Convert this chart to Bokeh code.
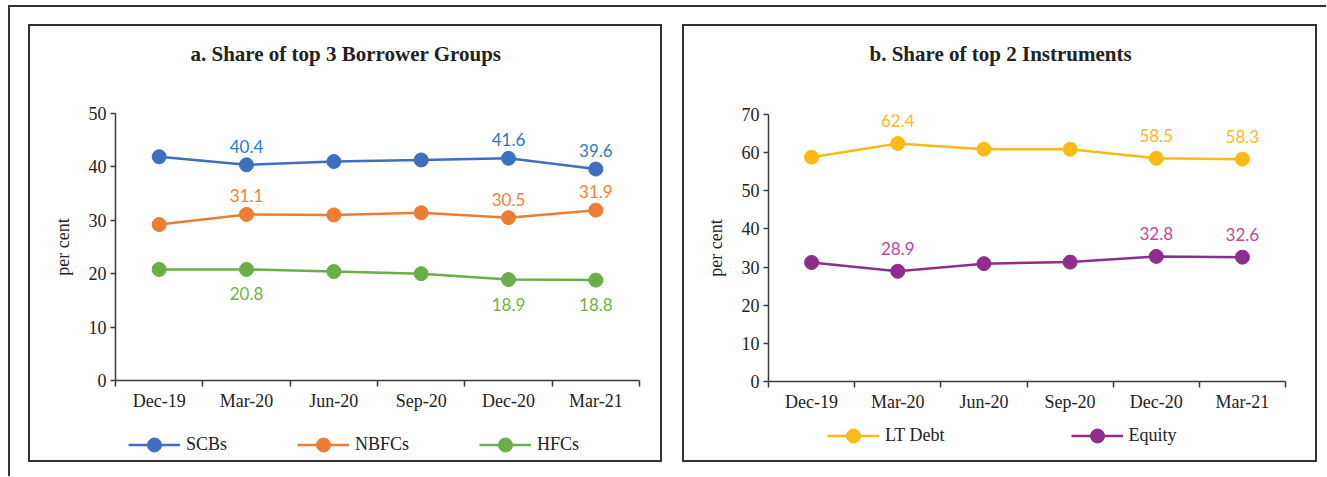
from bokeh.plotting import figure
from bokeh.layouts import row, column
from bokeh.models import (Range1d, FixedTicker, Legend, LegendItem, ColumnDataSource,
                          LabelSet)
from bokeh.core.properties import value
from bokeh.embed import file_html
from bokeh.resources import INLINE

# ---------------- data ----------------
categories = ["Dec-19", "Mar-20", "Jun-20", "Sep-20", "Dec-20", "Mar-21"]

scbs = [41.9, 40.4, 41.0, 41.3, 41.6, 39.6]
nbfcs = [29.2, 31.1, 31.0, 31.4, 30.5, 31.9]
hfcs = [20.8, 20.8, 20.4, 20.0, 18.9, 18.8]

lt_debt = [58.8, 62.4, 60.9, 60.9, 58.5, 58.3]
equity = [31.2, 28.9, 30.9, 31.3, 32.8, 32.6]

labelled_idx = [1, 4, 5]          # points carrying a data label

yticks_a = [0, 10, 20, 30, 40, 50]
yticks_b = [0, 10, 20, 30, 40, 50, 60, 70]

title_a = "a. Share of top 3 Borrower Groups"
title_b = "b. Share of top 2 Instruments"
ylabel = "per cent"

# ---------------- styling ----------------
SERIF = "Liberation Serif"
SANS = "Lato"
AX = "#3a3a3a"
TXT = "#222222"

xs = [i + 0.5 for i in range(len(categories))]


def make_panel(title, series, yticks, width, title_h, plot_h, leg_h, borders, title_off,
               legend_loc, legend_spacing, label_off_above, label_off_below):
    # strip that carries the panel title
    tf = figure(width=width, height=title_h, output_backend="svg", toolbar_location=None,
                x_range=Range1d(0, 1), y_range=Range1d(0, 1),
                x_axis_type=None, y_axis_type=None, min_border=0)
    tf.outline_line_color = None
    tf.title.text = title
    tf.title.align = "left"
    tf.title.offset = title_off
    tf.title.standoff = 27
    tf.title.text_font = SERIF
    tf.title.text_font_style = "bold"
    tf.title.text_font_size = "21px"
    tf.title.text_color = TXT

    p = figure(width=width, height=plot_h, output_backend="svg", toolbar_location=None,
               x_range=Range1d(0, len(categories)), y_range=Range1d(yticks[0], yticks[-1]),
               min_border_left=borders[0], min_border_right=borders[1],
               min_border_top=borders[2], min_border_bottom=borders[3])
    p.title = None
    p.outline_line_color = None
    p.grid.visible = False
    p.background_fill_color = "white"
    p.border_fill_color = "white"

    # x axis: labels at category centres, ticks on category boundaries
    xa = p.xaxis[0]
    xa.ticker = FixedTicker(ticks=xs, minor_ticks=list(range(len(categories) + 1)))
    xa.major_label_overrides = {x: c for x, c in zip(xs, categories)}
    xa.major_tick_out = 0
    xa.major_tick_in = 0
    xa.minor_tick_out = 6
    xa.minor_tick_in = 0
    xa.minor_tick_line_color = AX
    xa.minor_tick_line_width = 1.5
    xa.axis_line_color = AX
    xa.axis_line_width = 1.5
    xa.major_label_standoff = 4
    xa.major_label_text_font = SERIF
    xa.major_label_text_font_size = "18px"
    xa.major_label_text_color = TXT

    ya = p.yaxis[0]
    ya.ticker = FixedTicker(ticks=yticks, minor_ticks=[])
    ya.major_tick_out = 5
    ya.major_tick_in = 0
    ya.major_tick_line_color = AX
    ya.major_tick_line_width = 1.5
    ya.axis_line_color = AX
    ya.axis_line_width = 1.5
    ya.major_label_standoff = 4
    ya.major_label_text_font = SERIF
    ya.major_label_text_font_size = "18px"
    ya.major_label_text_color = TXT
    ya.axis_label = ylabel
    ya.axis_label_text_font = SERIF
    ya.axis_label_text_font_style = "normal"
    ya.axis_label_text_font_size = "18px"
    ya.axis_label_text_color = TXT
    ya.axis_label_standoff = 13

    # strip that carries the legend below the chart
    # (its y view lies below every value, so only the legend shows there)
    lg = figure(width=width, height=leg_h, output_backend="svg", toolbar_location=None,
                x_range=Range1d(0, len(categories)), y_range=Range1d(-2, -1),
                x_axis_type=None, y_axis_type=None, min_border=0)
    lg.outline_line_color = None
    lg.grid.visible = False

    items = []
    for name, vals, color, lab_color, where in series:
        src = ColumnDataSource(dict(x=xs, y=vals))
        p.line("x", "y", source=src, line_color=color, line_width=2.5)
        p.scatter("x", "y", source=src, size=14, fill_color=color, line_color=color)
        ln = lg.line("x", "y", source=src, line_color=color, line_width=2.5)
        sc = lg.scatter("x", "y", source=src, size=14, fill_color=color, line_color=color)
        items.append(LegendItem(label=name, renderers=[ln, sc]))
        lsrc = ColumnDataSource(dict(
            x=[xs[i] for i in labelled_idx],
            y=[vals[i] for i in labelled_idx],
            t=["%.1f" % vals[i] for i in labelled_idx]))
        if where == "above":
            ls = LabelSet(x="x", y="y", text="t", source=lsrc, text_align="center",
                          text_baseline="bottom", y_offset=label_off_above,
                          text_font=value(SANS), text_font_size="17px", text_color=lab_color)
        else:
            ls = LabelSet(x="x", y="y", text="t", source=lsrc, text_align="center",
                          text_baseline="top", y_offset=label_off_below,
                          text_font=value(SANS), text_font_size="17px", text_color=lab_color)
        p.add_layout(ls)

    leg = Legend(items=items, orientation="horizontal", location=legend_loc,
                 spacing=legend_spacing, glyph_width=52, glyph_height=35,
                 label_standoff=6, padding=0, margin=0, border_line_color=None,
                 background_fill_alpha=0, label_text_font=SERIF,
                 label_text_font_size="18px", label_text_color=TXT)
    lg.add_layout(leg, "center")

    return column(tf, p, lg, spacing=0, styles={"border": "2px solid #333333"})


pa = make_panel(title_a,
                [("SCBs", scbs, "#3D6EBF", "#2F78C3", "above"),
                 ("NBFCs", nbfcs, "#ED7D31", "#F0823A", "above"),
                 ("HFCs", hfcs, "#6AAE48", "#70B24A", "below")],
                yticks_a, 630, 60, 327, 47, (85, 21, 27, 33), 75,
                (13, -2), 70, 12, -18)

pb = make_panel(title_b,
                [("LT Debt", lt_debt, "#FDBA17", "#FDB824", "above"),
                 ("Equity", equity, "#8E2D8E", "#C2459B", "above")],
                yticks_b, 631, 60, 328, 46, (84, 30, 28, 33), 101,
                (59, 7), 126, 16, -18)

inner = row(pa, pb, spacing=20,
            styles={"border-top": "2px solid #333333", "border-left": "2px solid #333333",
                    "padding-top": "17px", "padding-left": "18px",
                    "padding-bottom": "14px", "padding-right": "9px"})
layout = column(inner, styles={"padding-top": "5px", "padding-left": "8px"})

open("out.html", "w").write(file_html(layout, INLINE))
